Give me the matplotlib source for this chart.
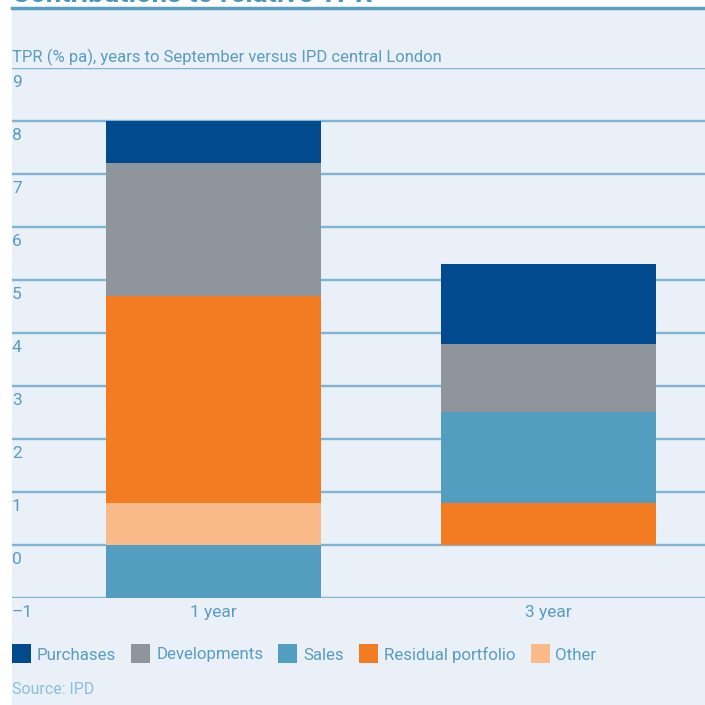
import matplotlib
matplotlib.use('Agg')
from matplotlib import pyplot as plt
from matplotlib.patches import Rectangle
from matplotlib.lines import Line2D
import matplotlib.transforms as mtrans

categories = ['1 year', '3 year']
purchases = [0.79, 1.51]
developments = [2.51, 1.29]
sales = [-1.0, 1.71]
residual = [3.91, 0.79]
other = [0.79, 0.0]

y_ticks = [-1, 0, 1, 2, 3, 4, 5, 6, 7, 8, 9]
y_labels = ['\u20131', '0', '1', '2', '3', '4', '5', '6', '7', '8', '9']

# stacking order bottom -> top
stack = [
    ('Other', other, '#FAB988'),
    ('Residual portfolio', residual, '#F37C22'),
    ('Sales', sales, '#529DC0'),
    ('Developments', developments, '#8E959C'),
    ('Purchases', purchases, '#004A8D'),
]
legend_order = ['Purchases', 'Developments', 'Sales', 'Residual portfolio', 'Other']

plt.rcParams['font.family'] = ['Liberation Sans Narrow', 'Roboto', 'DejaVu Sans']
txt_col = '#5B9CC1'
bg_col = '#E9F0F7'
grid_col = '#7FB4D3'

W = H = 705
fig = plt.figure(figsize=(W / 100, H / 100), dpi=100)
fig.patch.set_facecolor('white')


def fx(px):
    return px / W


def fy(py):
    return 1 - py / H


# background panel and top rule
fig.patches.append(Rectangle((fx(12), 0), 1 - fx(12), fy(8), transform=fig.transFigure,
                             facecolor=bg_col, edgecolor='none', zorder=-5))
fig.lines.append(Line2D([fx(12), 1], [fy(8), fy(8)], transform=fig.transFigure,
                        color='#5A9EC2', linewidth=2.5, zorder=-4))
fig.text(fx(12), fy(2), 'Contributions to relative TPR', fontsize=20, fontweight='bold',
         color='#4A95BE', va='baseline', ha='left')

ax = fig.add_axes([fx(12), fy(598), 1 - fx(12), fy(67.7) - fy(598)])
ax.set_zorder(2)
ax.set_facecolor('none')
ax.set_xlim(-0.601, 1.467)
ax.set_ylim(-1, 9)
for s in ax.spines.values():
    s.set_visible(False)

for v in y_ticks:
    ax.axhline(v, color=grid_col, linewidth=1.7, zorder=1)

x = list(range(len(categories)))
pos_bottom = [0.0] * len(x)
neg_bottom = [0.0] * len(x)
for name, vals, col in stack:
    bottoms = []
    for i, v in enumerate(vals):
        if v >= 0:
            bottoms.append(pos_bottom[i])
            pos_bottom[i] += v
        else:
            bottoms.append(neg_bottom[i])
            neg_bottom[i] += v
    ax.bar(x, vals, bottom=bottoms, width=0.642, color=col, zorder=2, linewidth=0)

ax.set_yticks([])
ax.set_xticks(x)
ax.set_xticklabels(categories, fontsize=12.5, color=txt_col)
ax.tick_params(axis='x', length=0, pad=5)

trans = mtrans.blended_transform_factory(ax.transAxes, ax.transData)
trans = trans + mtrans.ScaledTranslation(0, -7 / 100, fig.dpi_scale_trans)
for v, lab in zip(y_ticks, y_labels):
    ax.text(0.0, v, lab, transform=trans, fontsize=12.5, color=txt_col,
            va='top', ha='left', zorder=3)

fig.text(fx(12), fy(57), 'TPR (% pa), years to September versus IPD central London',
         fontsize=12, color=txt_col, va='center', ha='left')

# legend
colors = {name: col for name, _, col in stack}
fig.canvas.draw()
renderer = fig.canvas.get_renderer()
xpos = 12
for name in legend_order:
    fig.patches.append(Rectangle((fx(xpos), fy(663)), fx(19), 19 / H, transform=fig.transFigure,
                                 facecolor=colors[name], edgecolor='none'))
    t = fig.text(fx(xpos + 25), fy(655), name, fontsize=12.2, color=txt_col,
                 va='center', ha='left')
    bb = t.get_window_extent(renderer)
    xpos = bb.x1 + 15

fig.text(fx(12), fy(689), 'Source: IPD', fontsize=11.5, color='#8DBFD9',
         va='center', ha='left')

fig.savefig('out.png', dpi=100, facecolor=fig.get_facecolor())
